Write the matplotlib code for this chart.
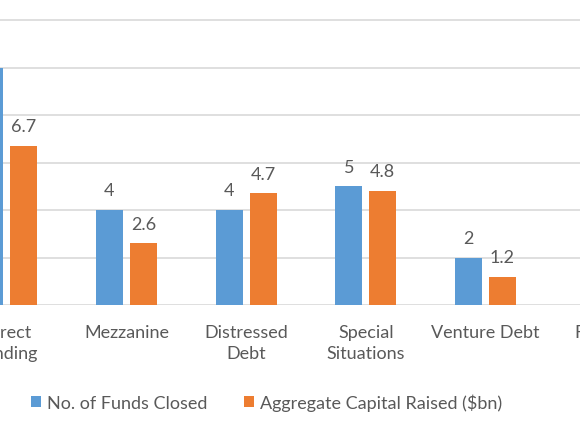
import matplotlib
matplotlib.use("Agg")
import matplotlib.pyplot as plt
import numpy as np
from matplotlib.patches import Patch

categories = ["Direct\nLending", "Mezzanine", "Distressed\nDebt", "Special\nSituations", "Venture Debt", "Fund of\nFunds"]
funds_closed = [10, 4, 4, 5, 2, 0]
capital_raised = [6.7, 2.6, 4.7, 4.8, 1.2, 0]
series_names = ["No. of Funds Closed", "Aggregate Capital Raised ($bn)"]

BLUE = "#5B9BD5"
ORANGE = "#ED7D31"
TEXT = "#595959"
GRID = "#D9D9D9"

plt.rcParams['font.family'] = ['Lato', 'DejaVu Sans']

W, H = 580, 435
fig = plt.figure(figsize=(W / 100, H / 100), dpi=100)
base_px = 306.0
unit_px = 23.75
cat_px = 119.67
x0_px = 6.8
ax = fig.add_axes([0, (H - base_px) / H, 1, base_px / H])

x = np.arange(len(categories))
bw = 27 / cat_px
off = 17 / cat_px
b1 = ax.bar(x - off, funds_closed, bw, color=BLUE, zorder=3)
b2 = ax.bar(x + off, capital_raised, bw, color=ORANGE, zorder=3)

fs = 13
for bars, vals in ((b1, funds_closed), (b2, capital_raised)):
    for r, v in zip(bars, vals):
        if v == 0:
            continue
        ax.annotate(f"{v:g}", (r.get_x() + r.get_width() / 2, v), xytext=(0, 10.5),
                    textcoords="offset points", ha="center", va="baseline",
                    fontsize=fs, color=TEXT, zorder=4)

ax.set_yticks(np.arange(0, 13, 2))
ax.yaxis.grid(True, color=GRID, linewidth=1.2, zorder=0)
ax.tick_params(axis="y", left=False, labelleft=False)
ax.set_xticks([])
for s in ax.spines.values():
    s.set_visible(False)
ax.set_xlim(-x0_px / cat_px, (W - x0_px) / cat_px)
ax.set_ylim(0, base_px / unit_px)

for xi, lab in zip(x, categories):
    ax.annotate(lab, (xi, 0), xycoords=("data", "axes fraction"), xytext=(0, -14),
                textcoords="offset points", ha="center", va="top", fontsize=fs,
                color=TEXT, linespacing=1.33, annotation_clip=False, multialignment="center")

handles = [Patch(facecolor=BLUE), Patch(facecolor=ORANGE)]
fig.legend(handles, series_names, loc="center left", bbox_to_anchor=(31 / W, 1 - 403 / H),
           ncol=2, frameon=False, fontsize=fs, labelcolor=TEXT, borderpad=0, borderaxespad=0,
           handlelength=0.55, handleheight=0.55, handletextpad=0.35, columnspacing=2.0)

fig.savefig("out.png", dpi=100)
